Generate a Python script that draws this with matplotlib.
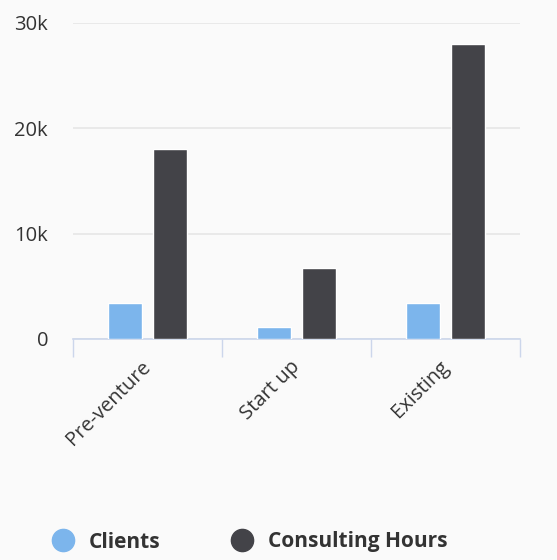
import matplotlib.pyplot as plt
from matplotlib.lines import Line2D
import numpy as np

plt.rcParams['font.family'] = ['Open Sans', 'DejaVu Sans']

# Data
categories = ['Pre-venture', 'Start up', 'Existing']
clients = [3400, 1100, 3400]
consulting_hours = [18000, 6700, 28000]
series_names = ['Clients', 'Consulting Hours']
y_ticks = [0, 10000, 20000, 30000]
y_tick_labels = ['0', '10k', '20k', '30k']

# Colours
bg = '#fafafa'
c_clients = '#7cb5ec'
c_hours = '#434348'
text_col = '#333333'
axis_col = '#ccd6eb'
grid_col = '#e6e6e6'

fig = plt.figure(figsize=(5.57, 5.60), dpi=100, facecolor=bg)
ax = fig.add_axes([73 / 557, 221 / 560, 447 / 557, 316 / 560], facecolor=bg)

x = np.arange(len(categories))
width = 0.228
offset = 0.151
ax.bar(x - offset, clients, width, color=c_clients, edgecolor='white', linewidth=1, zorder=3)
ax.bar(x + offset, consulting_hours, width, color=c_hours, edgecolor='white', linewidth=1, zorder=3)

ax.set_xlim(-0.5, 2.5)
ax.set_ylim(0, 30000)

# y axis
ax.set_yticks(y_ticks)
ax.set_yticklabels(y_tick_labels, fontsize=14.5, color=text_col)
ax.tick_params(axis='y', length=0, pad=18)
ax.yaxis.grid(True, color=grid_col, linewidth=1.2, zorder=0)

# x axis
ax.set_xticks(x)
ax.set_xticklabels(categories, rotation=45, ha='right', va='center',
                   rotation_mode='anchor', fontsize=14.5, color=text_col)
ax.tick_params(axis='x', which='major', length=0, pad=18)
ax.set_xticks(np.arange(-0.5, len(categories), 1.0), minor=True)
ax.tick_params(axis='x', which='minor', length=13, width=1, color=axis_col)

for s in ['top', 'right', 'left']:
    ax.spines[s].set_visible(False)
ax.spines['bottom'].set_color(axis_col)
ax.spines['bottom'].set_linewidth(1.2)

# legend
handles = [Line2D([], [], marker='o', linestyle='none', markersize=16, color=c)
           for c in [c_clients, c_hours]]
leg = fig.legend(handles, series_names, loc='center left', bbox_to_anchor=(44 / 557, 1 - 542 / 560),
                 ncol=2, frameon=False, borderaxespad=0, handlelength=1.0,
                 handletextpad=0.75, columnspacing=3.4,
                 prop={'size': 15, 'weight': 'bold'})
for t in leg.get_texts():
    t.set_color(text_col)

fig.savefig('out.png', dpi=100, facecolor=bg)
